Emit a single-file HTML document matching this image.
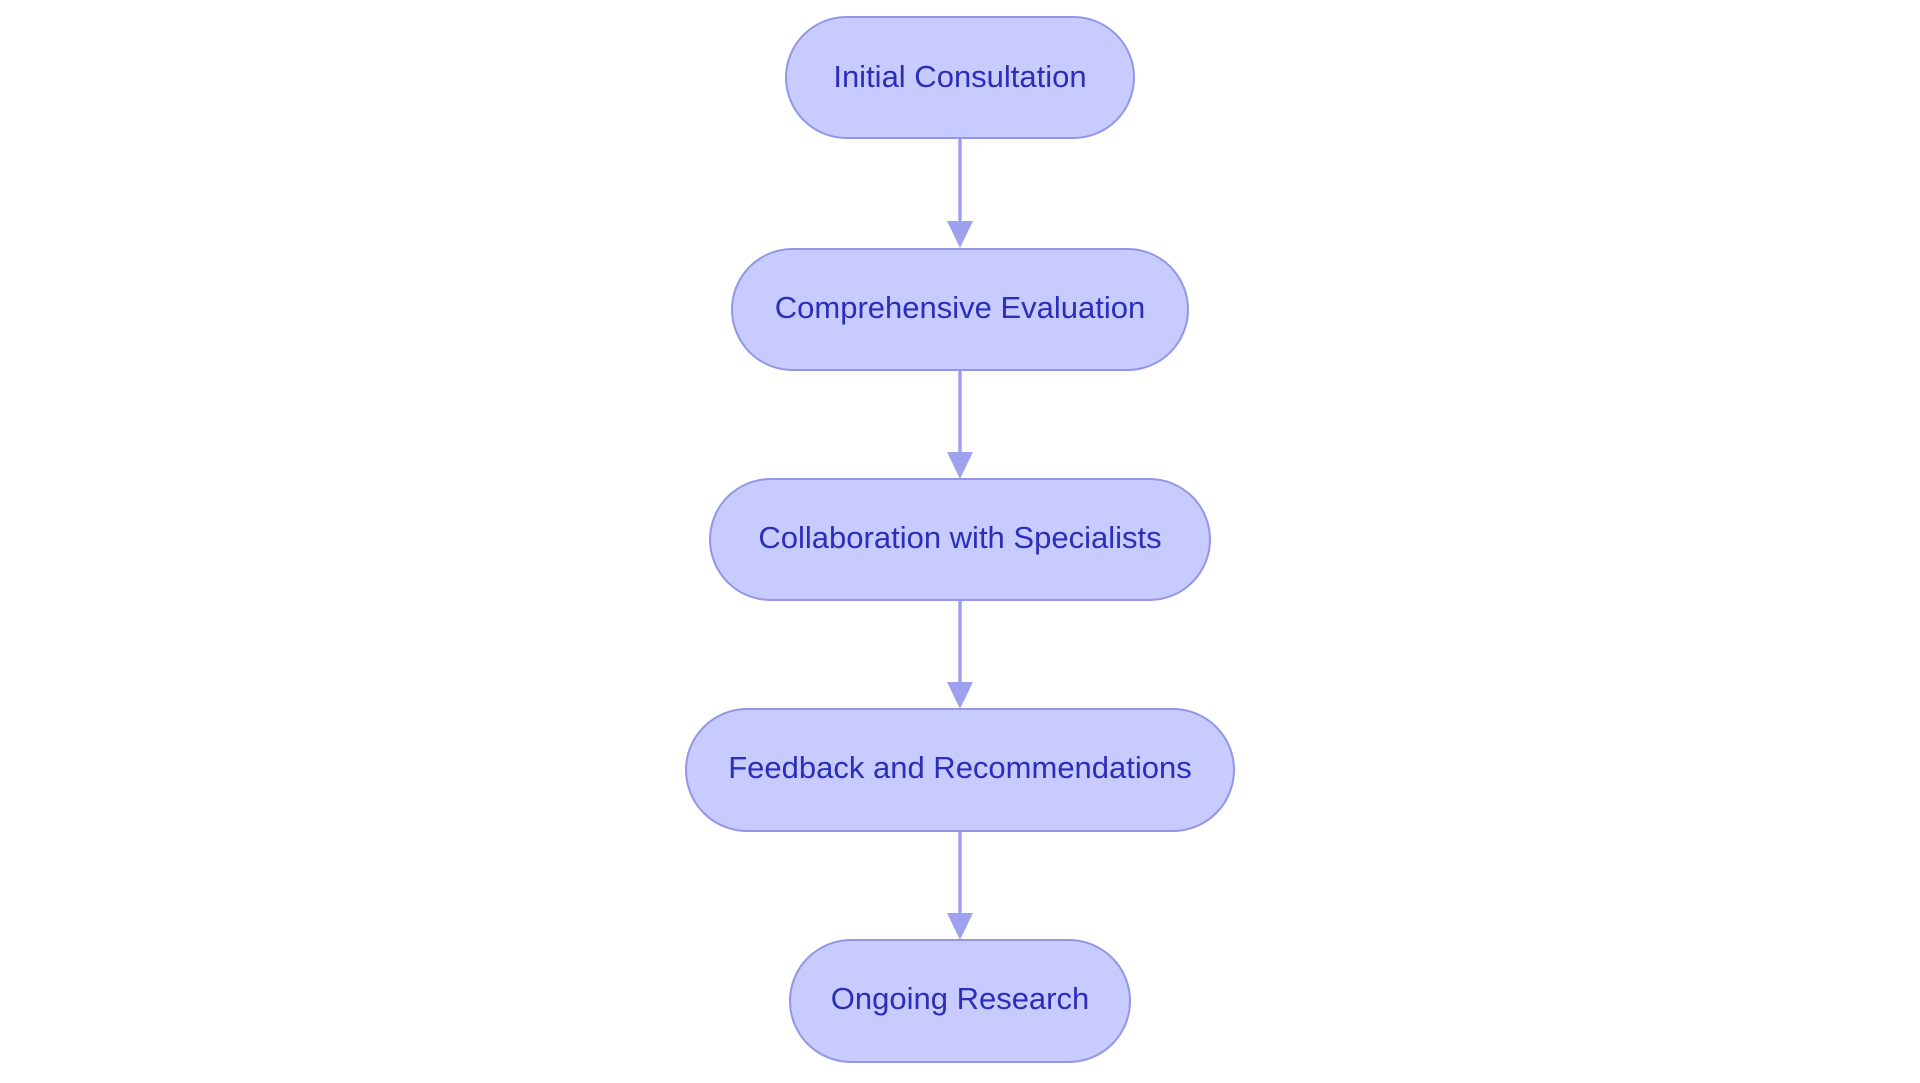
<!DOCTYPE html>
<html><head><meta charset="utf-8"><style>
html,body{margin:0;padding:0;background:#fff;width:1920px;height:1083px;overflow:hidden}
</style></head><body>
<svg width="1920" height="1083" xmlns="http://www.w3.org/2000/svg" font-family="Liberation Sans, sans-serif">
<g stroke="#9ea2ee" stroke-width="3.5" fill="#9ea2ee">
<line x1="960" y1="138" x2="960" y2="224"/><polygon points="947,221 973,221 960,248" stroke="none"/>
<line x1="960" y1="370" x2="960" y2="455"/><polygon points="947,452 973,452 960,479" stroke="none"/>
<line x1="960" y1="600" x2="960" y2="685"/><polygon points="947,682 973,682 960,709" stroke="none"/>
<line x1="960" y1="831" x2="960" y2="916"/><polygon points="947,913 973,913 960,940" stroke="none"/>
</g>
<g fill="#c8cbff" stroke="#9396e6" stroke-width="2">
<rect x="786" y="17" width="348" height="121" rx="60.5"/>
<rect x="732" y="249" width="456" height="121" rx="60.5"/>
<rect x="710" y="479" width="500" height="121" rx="60.5"/>
<rect x="686" y="709" width="548" height="122" rx="61"/>
<rect x="790" y="940" width="340" height="122" rx="61"/>
</g>
<g fill="#2a2eb8" font-size="31" text-anchor="middle">
<text x="960" y="87">Initial Consultation</text>
<text x="960" y="318">Comprehensive Evaluation</text>
<text x="960" y="548">Collaboration with Specialists</text>
<text x="960" y="778">Feedback and Recommendations</text>
<text x="960" y="1009">Ongoing Research</text>
</g>
</svg>
</body></html>
